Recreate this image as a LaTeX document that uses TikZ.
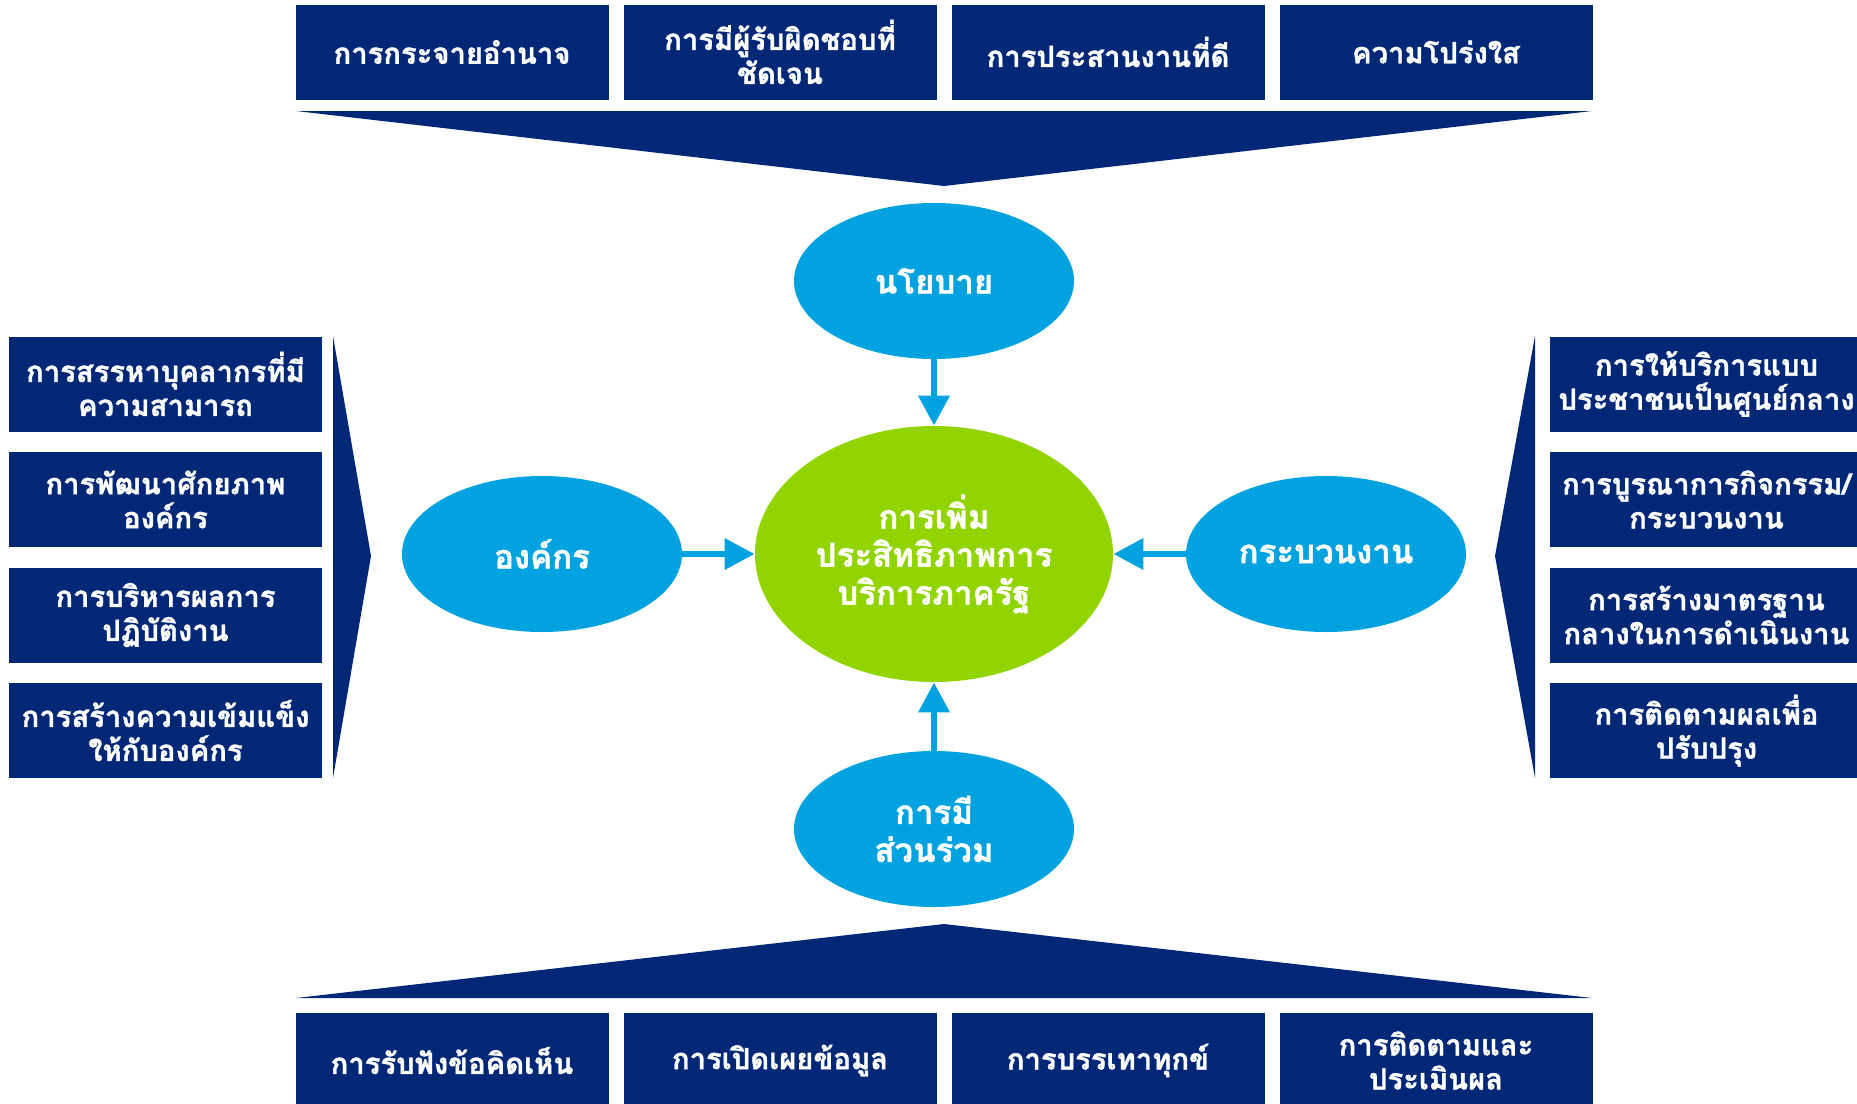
\documentclass[tikz,border=0pt]{standalone}
\usepackage{fontspec}
\newfontfamily\thaifont[Script=Thai, BoldFeatures={FakeBold=1.2}]{Loma}
\usetikzlibrary{shapes.geometric,arrows.meta,positioning}
\definecolor{navy}{RGB}{0,40,118}
\definecolor{skyblue}{RGB}{0,162,223}
\definecolor{limegreen}{RGB}{146,212,0}

\begin{document}
\begin{tikzpicture}[x=0.5pt, y=-0.5pt,
  item/.style={fill=navy, text=white, minimum width=156.5pt, minimum height=47.5pt, inner sep=0pt, align=center, font=\thaifont\bfseries\fontsize{14.6}{17}\selectfont},
  pillar/.style={ellipse, fill=skyblue, text=white, minimum width=140pt, minimum height=78pt, inner sep=0pt, align=center, font=\thaifont\bfseries\fontsize{16.5}{19}\selectfont},
  goal/.style={ellipse, fill=limegreen, text=white, minimum width=179pt, minimum height=128pt, inner sep=0pt, align=center, font=\thaifont\bfseries\fontsize{16.5}{19}\selectfont},
  wedge/.style={fill=navy},
  flow/.style={-{Triangle[length=15pt, width=15pt]}, line width=3.3pt, skyblue},
]
\useasboundingbox (0,0) rectangle (1857,1103);

% Top row
\node[item] (t1) at (452, 52) {การกระจายอำนาจ};
\node[item] (t2) at (780, 52) {การมีผู้รับผิดชอบที่\\ชัดเจน};
\node[item] (t3) at (1108, 52) {การประสานงานที่ดี};
\node[item] (t4) at (1436, 52) {ความโปร่งใส};
\fill[wedge] (296,111) -- (1592,111) -- (944,186) -- cycle;

% Left column
\node[item] (l1) at (165.5, 384) {การสรรหาบุคลากรที่มี\\ความสามารถ};
\node[item] (l2) at (165.5, 499.5) {การพัฒนาศักยภาพ\\องค์กร};
\node[item] (l3) at (165.5, 615) {การบริหารผลการ\\ปฏิบัติงาน};
\node[item] (l4) at (165.5, 730.5) {การสร้างความเข้มแข็ง\\ให้กับองค์กร};
\fill[wedge] (333,336) -- (333,778) -- (371,556) -- cycle;

% Right column
\node[item] (r1) at (1706.5, 384) {การให้บริการแบบ\\ประชาชนเป็นศูนย์กลาง};
\node[item] (r2) at (1706.5, 499.5) {การบูรณาการกิจกรรม/\\กระบวนงาน};
\node[item] (r3) at (1706.5, 615) {การสร้างมาตรฐาน\\กลางในการดำเนินงาน};
\node[item] (r4) at (1706.5, 730.5) {การติดตามผลเพื่อ\\ปรับปรุง};
\fill[wedge] (1535,336) -- (1535,778) -- (1495,556) -- cycle;

% Bottom row
\node[item] (b1) at (452, 1060.5) {การรับฟังข้อคิดเห็น};
\node[item] (b2) at (780, 1060.5) {การเปิดเผยข้อมูล};
\node[item] (b3) at (1108, 1060.5) {การบรรเทาทุกข์};
\node[item] (b4) at (1436, 1060.5) {การติดตามและ\\ประเมินผล};
\fill[wedge] (296,998) -- (1592,998) -- (944,924) -- cycle;

% Centre and pillars
\node[goal] (core) at (934, 554) {การเพิ่ม\\ประสิทธิภาพการ\\บริการภาครัฐ};
\node[pillar] (policy) at (934, 281) {นโยบาย};
\node[pillar] (org) at (542, 554) {องค์กร};
\node[pillar] (process) at (1326, 554) {กระบวนงาน};
\node[pillar] (engage) at (934, 829) {การมี\\ส่วนร่วม};

\draw[flow] (policy) -- (core);
\draw[flow] (org) -- (core);
\draw[flow] (process) -- (core);
\draw[flow] (engage) -- (core);

\end{tikzpicture}
\end{document}
